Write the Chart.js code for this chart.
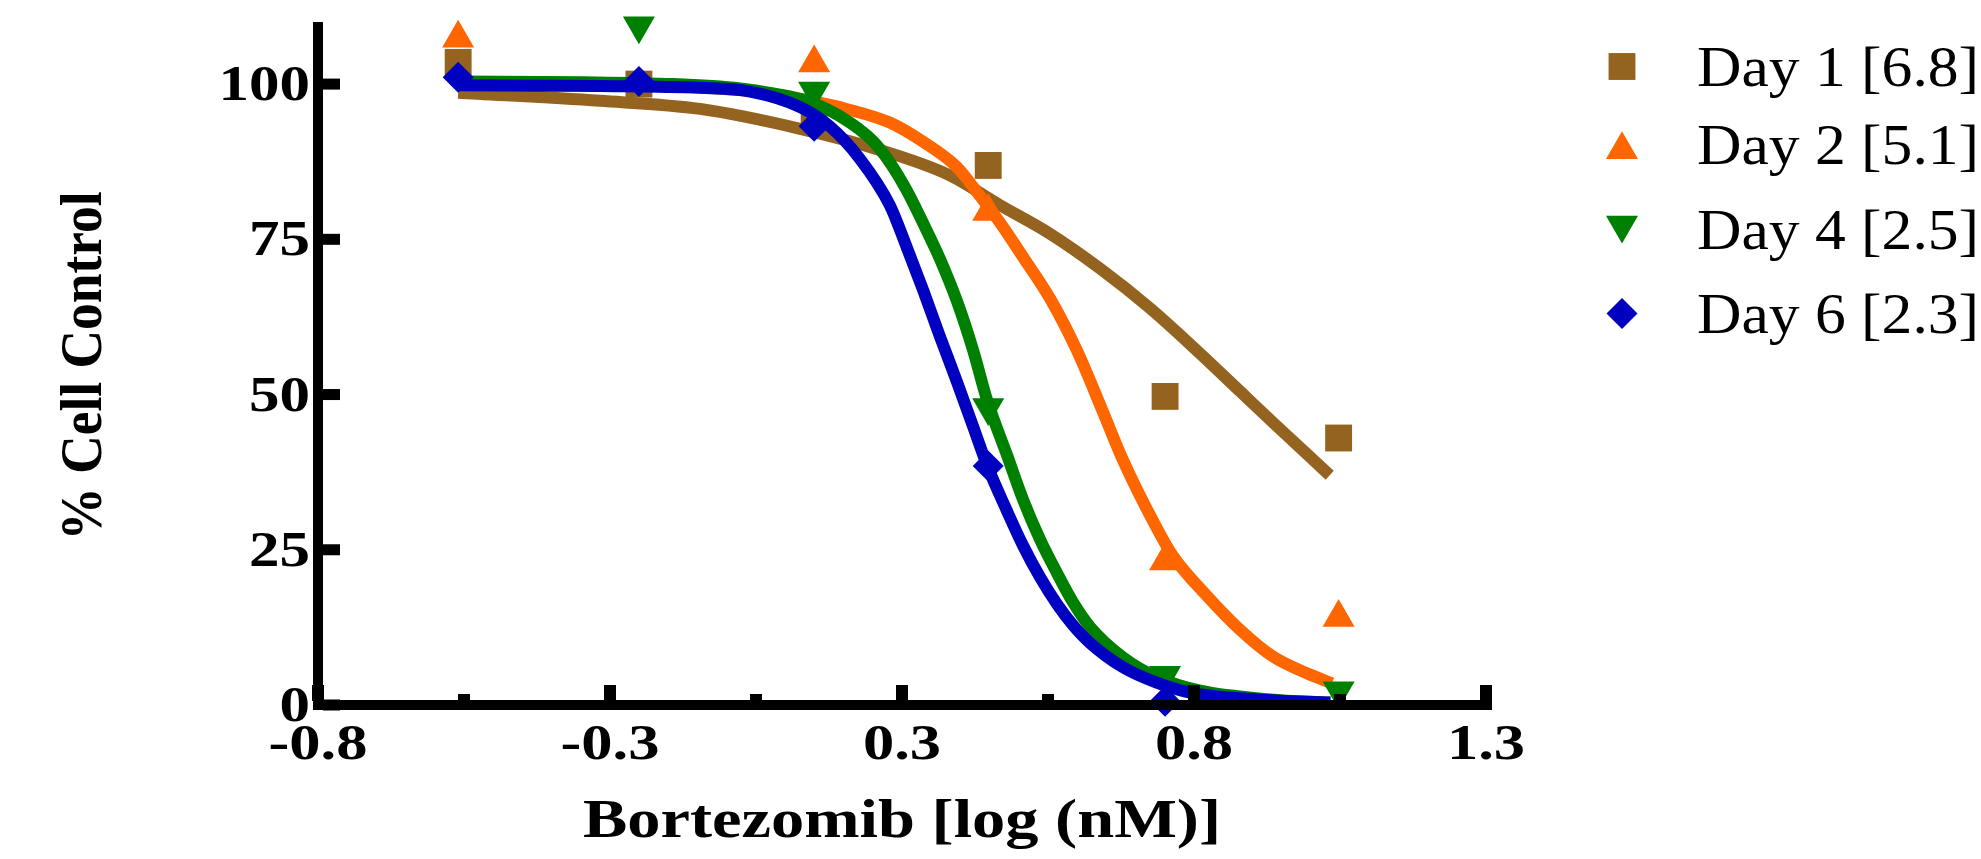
<!DOCTYPE html>
<html>
<head>
<meta charset="utf-8">
<script src="https://cdn.jsdelivr.net/npm/chart.js@4.4.1/dist/chart.umd.min.js"></script>
<style>
    html, body { margin: 0; padding: 0; background: #fff; }
    #wrap { width: 1981px; height: 859px; position: relative; }
</style>
</head>
<body>
<div id="wrap"><canvas id="doseChart"></canvas></div>
<script>
// measured points, log dose vs % of cell control (null = not shown)
const doseLog = [-0.548, -0.223, 0.092, 0.405, 0.723, 1.035];
const day1Values = [103.5, 100.0, 95.0, 86.9, 49.7, 43.0];
const day2Values = [107.4, null, 103.4, 79.5, 23.2, 14.1];
const day4Values = [null, 109.4, 98.9, 47.9, 4.8, 2.3];
const day6Values = [101.1, 100.4, 93.2, 38.5, 0.6, null];

// fitted curves
const day1CurveX = [-0.548, -0.293, -0.113, 0.067, 0.210, 0.336, 0.426, 0.516, 0.606, 0.696, 0.786, 0.858, 0.917, 1.019];
const day1CurveY = [98.6, 97.3, 96.0, 92.8, 89.4, 85.3, 80.5, 75.9, 70.3, 63.9, 56.6, 50.5, 45.5, 37.0];
const day2CurveX = [-0.548, -0.3, -0.1, 0.0, 0.09, 0.15, 0.228, 0.288, 0.349, 0.39, 0.426, 0.468, 0.516, 0.565, 0.61, 0.647, 0.708, 0.737, 0.798, 0.858, 0.917, 0.978, 1.023];
const day2CurveY = [100.3, 100.1, 99.4, 98.6, 97.2, 96.0, 93.8, 90.7, 86.6, 82.0, 77.7, 72.1, 65.5, 57.0, 47.5, 39.5, 28.5, 24.0, 17.6, 12.1, 7.8, 5.1, 3.5];
const day4CurveX = [-0.548, -0.324, -0.162, -0.041, 0.018, 0.079, 0.139, 0.198, 0.228, 0.259, 0.288, 0.318, 0.349, 0.378, 0.403, 0.439, 0.468, 0.498, 0.529, 0.557, 0.588, 0.647, 0.708, 0.786, 0.912, 1.02];
const day4CurveY = [100.4, 100.3, 100.0, 99.3, 98.5, 97.3, 94.8, 90.8, 87.4, 82.8, 77.6, 71.9, 65.0, 57.1, 49.1, 40.2, 33.0, 26.7, 21.2, 16.6, 12.6, 7.7, 4.5, 2.3, 0.9, 0.4];
const day6CurveX = [-0.548, -0.293, -0.113, -0.023, 0.067, 0.12, 0.174, 0.228, 0.259, 0.288, 0.318, 0.349, 0.378, 0.403, 0.439, 0.468, 0.498, 0.529, 0.557, 0.588, 0.647, 0.708, 0.768, 0.888, 1.02];
const day6CurveY = [99.8, 99.7, 99.4, 98.8, 96.3, 93.2, 88.0, 80.5, 73.6, 66.8, 59.4, 52.0, 44.8, 38.6, 31.2, 25.6, 20.6, 16.2, 12.9, 10.0, 6.1, 3.6, 2.0, 0.9, 0.4];

const legendLabels = ['Day 1 [6.8]', 'Day 2 [5.1]', 'Day 4 [2.5]', 'Day 6 [2.3]'];

const xTickValues = [-0.8, -0.275, 0.25, 0.775, 1.3];
const xTickLabels = ['-0.8', '-0.3', '0.3', '0.8', '1.3'];
const xMinorTicks = [-0.5375, -0.0125, 0.5125, 1.0375];
const yTickValues = [0, 25, 50, 75, 100];
const yTickLabels = ['0', '25', '50', '75', '100'];

const xTitle = 'Bortezomib [log (nM)]';
const yTitle = '% Cell Control';

const colors = ['#94631f', '#ff6600', '#008000', '#0000c0'];
const markers = [
    { style: 'rect', radius: 19, rotation: 0 },
    { style: 'triangle', radius: 18.5, rotation: 0 },
    { style: 'triangle', radius: 18.5, rotation: 180 },
    { style: 'rectRot', radius: 15.5, rotation: 0 }
];

const toPoints = (xs, ys) => xs.map((x, i) => ({ x, y: ys[i] })).filter((p) => p.y !== null);

const pointSets = [day1Values, day2Values, day4Values, day6Values];
const curveSets = [[day1CurveX, day1CurveY], [day2CurveX, day2CurveY], [day4CurveX, day4CurveY], [day6CurveX, day6CurveY]];

const datasets = [];
pointSets.forEach((values, i) => {
    const depth = 3 - i; // day 6 on top, day 1 at the bottom
    datasets.push({
        label: legendLabels[i] + ' fit',
        data: toPoints(curveSets[i][0], curveSets[i][1]),
        showLine: true,
        borderColor: colors[i],
        borderWidth: 12,
        borderJoinStyle: 'round',
        cubicInterpolationMode: 'monotone',
        pointRadius: 0,
        order: depth * 2 + 1,
        clip: false
    });
    datasets.push({
        label: legendLabels[i],
        data: toPoints(doseLog, values),
        showLine: false,
        pointStyle: markers[i].style,
        pointRadius: markers[i].radius,
        rotation: markers[i].rotation,
        pointBackgroundColor: colors[i],
        pointBorderWidth: 0,
        order: depth * 2,
        clip: false
    });
});

function drawMarker(ctx, style, r, rotation, x, y) {
    ctx.beginPath();
    if (style === 'rect') {
        const s = Math.SQRT1_2 * r;
        ctx.rect(x - s, y - s, 2 * s, 2 * s);
    } else if (style === 'triangle') {
        let rad = rotation * Math.PI / 180;
        ctx.moveTo(x + Math.sin(rad) * r, y - Math.cos(rad) * r);
        rad += 2 * Math.PI / 3;
        ctx.lineTo(x + Math.sin(rad) * r, y - Math.cos(rad) * r);
        rad += 2 * Math.PI / 3;
        ctx.lineTo(x + Math.sin(rad) * r, y - Math.cos(rad) * r);
    } else {
        ctx.moveTo(x - r, y);
        ctx.lineTo(x, y - r);
        ctx.lineTo(x + r, y);
        ctx.lineTo(x, y + r);
    }
    ctx.closePath();
    ctx.fill();
}

function stretchedText(ctx, text, x, y, sx, align) {
    ctx.save();
    ctx.translate(x, y);
    ctx.scale(sx, 1);
    ctx.textAlign = align;
    ctx.fillText(text, 0, 0);
    ctx.restore();
}

const axesPlugin = {
    id: 'prismAxes',
    afterDatasetsDraw(chart) {
        const ctx = chart.ctx;
        const xs = chart.scales.x;
        const ys = chart.scales.y;
        const x0 = xs.getPixelForValue(-0.8);
        const x1 = xs.getPixelForValue(1.3);
        const y0 = ys.getPixelForValue(0);
        const yTop = ys.getPixelForValue(110);

        ctx.save();
        ctx.fillStyle = '#000';
        ctx.fillRect(x0 - 5, yTop, 10, y0 + 5 - yTop);
        ctx.fillRect(x0 - 5, y0 - 5, x1 + 6 - (x0 - 5), 10);

        yTickValues.forEach((v) => {
            const y = ys.getPixelForValue(v);
            ctx.fillRect(x0 + 5, y - 5.5, 17, 11);
        });
        xTickValues.forEach((v) => {
            const x = xs.getPixelForValue(v);
            ctx.fillRect(x - 6, y0 - 20, 12, 16);
        });
        xMinorTicks.forEach((v) => {
            const x = xs.getPixelForValue(v);
            ctx.fillRect(x - 6, y0 - 11, 12, 7);
        });

        ctx.textBaseline = 'alphabetic';
        ctx.font = 'bold 50px "Liberation Serif"';
        yTickValues.forEach((v, i) => {
            stretchedText(ctx, yTickLabels[i], x0 - 8, ys.getPixelForValue(v) + 16, 1.22, 'right');
        });
        xTickValues.forEach((v, i) => {
            stretchedText(ctx, xTickLabels[i], xs.getPixelForValue(v), 759, 1.25, 'center');
        });

        ctx.font = 'bold 54px "Liberation Serif"';
        stretchedText(ctx, xTitle, (x0 + x1) / 2, 837, 1.23, 'center');

        ctx.save();
        ctx.translate(101, 366);
        ctx.rotate(-Math.PI / 2);
        ctx.scale(0.89, 1);
        ctx.font = 'bold 60px "Liberation Serif"';
        ctx.textAlign = 'center';
        ctx.fillText(yTitle, 0, 0);
        ctx.restore();

        // legend
        const rowY = [66.5, 145, 229.5, 313.5];
        ctx.font = '57px "Liberation Serif"';
        legendLabels.forEach((label, i) => {
            const m = markers[i];
            let cy = rowY[i];
            if (m.style === 'triangle') cy += (m.rotation ? -0.25 : 0.25) * m.radius;
            ctx.fillStyle = colors[i];
            drawMarker(ctx, m.style, m.radius, m.rotation, 1622, cy);
            ctx.fillStyle = '#000';
            stretchedText(ctx, label, 1697, rowY[i] + 19, 1.08, 'left');
        });
        ctx.restore();
    }
};

new Chart(document.getElementById('doseChart'), {
    type: 'scatter',
    data: { datasets },
    options: {
        responsive: true,
        maintainAspectRatio: false,
        animation: false,
        layout: { padding: { left: 318, right: 495, top: 22, bottom: 154 } },
        plugins: { legend: { display: false }, tooltip: { enabled: false } },
        scales: {
            x: { type: 'linear', min: -0.8, max: 1.3, display: false },
            y: { type: 'linear', min: 0, max: 110, display: false }
        }
    },
    plugins: [axesPlugin]
});
</script>
</body>
</html>
